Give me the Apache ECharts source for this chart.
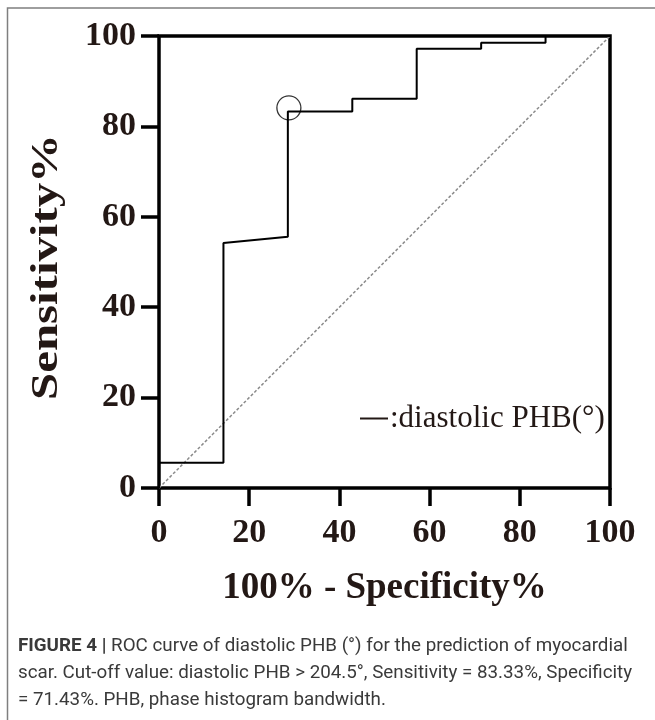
<!DOCTYPE html>
<html>
<head>
<meta charset="utf-8">
<script src="https://cdn.jsdelivr.net/npm/echarts@6/dist/echarts.min.js"></script>
<style>
html,body{margin:0;padding:0;background:#fff;}
#chart{width:655px;height:720px;}
</style>
</head>
<body>
<div id="chart"></div>
<script>
// ROC curve (x = 100% - Specificity%, y = Sensitivity%)
var rocX = [0, 0, 14.29, 14.29, 28.57, 28.57, 42.86, 42.86, 57.14, 57.14, 71.43, 71.43, 85.71, 85.71, 100];
var rocY = [0, 5.6, 5.6, 54.2, 55.6, 83.3, 83.3, 86.1, 86.1, 97.2, 97.2, 98.5, 98.5, 100, 100];
// reference (chance) line
var refX = [0, 100];
var refY = [0, 100];
// cut-off marker
var cutoffPoint = [28.8, 84.1];
var xTicks = [0, 20, 40, 60, 80, 100];
var yTicks = [0, 20, 40, 60, 80, 100];
var seriesName = 'diastolic PHB(°)';
var xTitle = '100% - Specificity%';
var yTitle = 'Sensitivity%';
var captionBold = 'FIGURE 4 |';
var captionLines = [
  ' ROC curve of diastolic PHB (°) for the prediction of myocardial',
  'scar. Cut-off value: diastolic PHB > 204.5°, Sensitivity = 83.33%, Specificity',
  '= 71.43%. PHB, phase histogram bandwidth.'
];

var serif = '"Liberation Serif", "Times New Roman", serif';
var sans = 'Roboto, "Liberation Sans", sans-serif';
var txt = '#231815';

var chart = echarts.init(document.getElementById('chart'), null, {renderer: 'canvas'});

function zip(a, b) { return a.map(function (v, i) { return [v, b[i]]; }); }

var option = {
  animation: false,
  backgroundColor: '#fff',
  grid: {
    left: 159, right: 45, top: 36, bottom: 232,
    show: true, borderColor: '#000', borderWidth: 3.5, backgroundColor: 'transparent'
  },
  legend: {
    show: true,
    left: 355, top: 398,
    icon: 'rect', itemWidth: 28, itemHeight: 2,
    data: [seriesName],
    formatter: ':{name}',
    textStyle: {fontFamily: serif, fontSize: 31, color: txt, padding: [0, 0, 0, -3]},
    itemStyle: {color: txt}
  },
  xAxis: {
    type: 'value', min: 0, max: 100, interval: 20,
    name: xTitle, nameLocation: 'middle', nameGap: 82,
    nameTextStyle: {fontFamily: serif, fontSize: 37, fontWeight: 'bold', color: txt},
    axisLine: {show: false},
    axisTick: {show: true, length: 18, inside: false, lineStyle: {color: '#000', width: 3.5}},
    axisLabel: {fontFamily: serif, fontSize: 34, fontWeight: 'bold', color: txt, margin: 28,
      formatter: function (v) { return xTicks.indexOf(v) >= 0 ? String(v) : ''; }},
    splitLine: {show: false}
  },
  yAxis: {
    type: 'value', min: 0, max: 100, interval: 20,
    axisLine: {show: false},
    axisTick: {show: true, length: 18, inside: false, lineStyle: {color: '#000', width: 3.5}},
    axisLabel: {fontFamily: serif, fontSize: 34, fontWeight: 'bold', color: txt, margin: 23,
      formatter: function (v) { return yTicks.indexOf(v) >= 0 ? String(v) : ''; }},
    splitLine: {show: false}
  },
  series: [
    {
      name: 'chance', type: 'line', data: zip(refX, refY), symbol: 'none',
      lineStyle: {color: '#8a8a8a', width: 1.5, type: [3, 2]}, silent: true, z: 1
    },
    {
      name: seriesName, type: 'line', data: zip(rocX, rocY), symbol: 'none',
      lineStyle: {color: '#000', width: 2}, itemStyle: {color: txt}, z: 3
    },
    {
      name: 'cutoff', type: 'scatter', data: [cutoffPoint], symbol: 'circle', symbolSize: 24,
      itemStyle: {color: 'transparent', borderColor: '#000', borderWidth: 1.3}, z: 4
    }
  ],
  graphic: [
    {
      type: 'polyline', silent: true,
      shape: {points: [[7.5, 720], [7.5, 8], [655, 8]]},
      style: {stroke: '#7f7f7f', lineWidth: 1.5, fill: null}
    },
    {
      type: 'text', x: 47, y: 267, rotation: Math.PI / 2, scaleX: 1.32, silent: true,
      style: {
        text: yTitle, align: 'center', verticalAlign: 'middle',
        fontFamily: serif, fontSize: 37, fontWeight: 'bold', fill: txt
      }
    },
    {
      type: 'text', left: 18, top: 633, silent: true,
      style: {
        text: '{b|' + captionBold + '}' + captionLines[0] + '\n' + captionLines[1] + '\n' + captionLines[2],
        fontFamily: sans,
        fontSize: 18.8, lineHeight: 27, fill: '#3a3a3a',
        rich: {b: {fontFamily: sans, fontSize: 18.8, fontWeight: 'bold', fill: '#3a3a3a', lineHeight: 27}}
      }
    }
  ]
};
chart.setOption(option);
</script>
</body>
</html>
